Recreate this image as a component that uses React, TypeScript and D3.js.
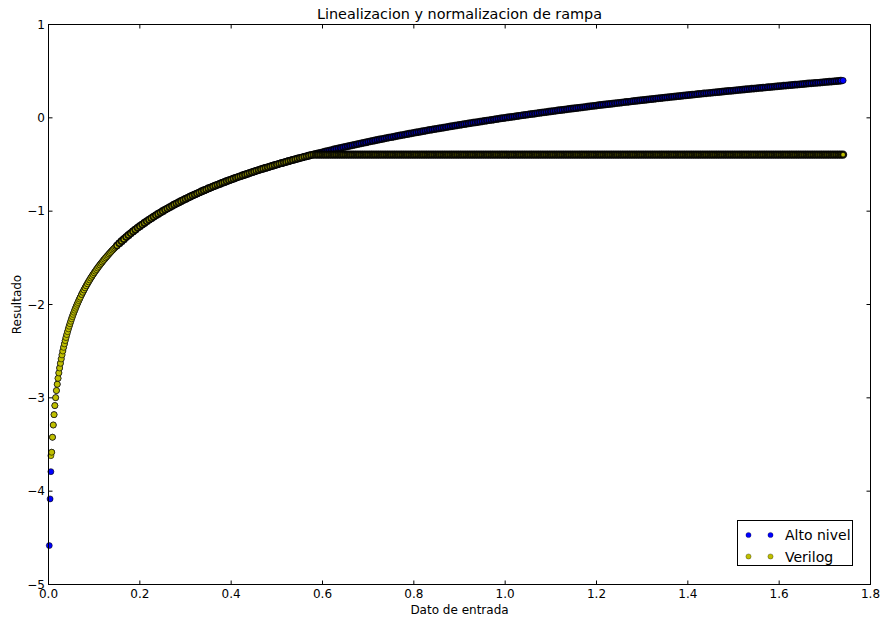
import React from "react";
import * as d3 from "d3";

const TITLE = "Linealizacion y normalizacion de rampa";
const X_LABEL = "Dato de entrada";
const Y_LABEL = "Resultado";
const SERIES_NAMES = ["Alto nivel", "Verilog"];

const X_TICKS = [0, 0.2, 0.4, 0.6, 0.8, 1.0, 1.2, 1.4, 1.6, 1.8];
const X_TICK_LABELS = ["0.0", "0.2", "0.4", "0.6", "0.8", "1.0", "1.2", "1.4", "1.6", "1.8"];
const Y_TICKS = [1, 0, -1, -2, -3, -4, -5];
const Y_TICK_LABELS = ["1", "0", "\u22121", "\u22122", "\u22123", "\u22124", "\u22125"];

const X_INPUT = [
  0.00174,0.00348,0.00522,0.00696,0.0087,0.01044,0.01218,0.01392,0.01566,0.0174,0.01914,0.02088,0.02262,0.02436,0.0261,0.02784,0.02958,0.03132,0.03306,0.0348,0.03654,0.03828,0.04002,0.04176,0.0435,0.04524,0.04698,0.04872,0.05046,0.0522,0.05394,0.05568,0.05742,0.05916,0.0609,0.06264,0.06438,0.06612,0.06786,0.0696,
  0.0725,0.075,0.0775,0.08,0.0825,0.085,0.0875,0.09,0.0925,0.095,0.0975,0.1,0.1025,0.105,0.1075,0.11,0.1125,0.115,0.1175,0.12,0.1225,0.125,0.1275,0.13,0.1325,0.135,0.1375,0.14,0.1425,0.145,0.1475,0.15,
  0.155,0.16,0.165,0.17,0.175,0.18,0.185,0.19,0.195,0.2,
  0.205,0.21,0.215,0.22,0.225,0.23,0.235,0.24,0.245,0.25,0.255,0.26,0.265,0.27,0.275,0.28,0.285,0.29,0.295,0.3,
  0.305,0.31,0.315,0.32,0.325,0.33,0.335,0.34,0.345,0.35,0.355,0.36,0.365,0.37,0.375,0.38,0.385,0.39,0.395,0.4,
  0.405,0.41,0.415,0.42,0.425,0.43,0.435,0.44,0.445,0.45,0.455,0.46,0.465,0.47,0.475,0.48,0.485,0.49,0.495,0.5,
  0.505,0.51,0.515,0.52,0.525,0.53,0.535,0.54,0.545,0.55,0.555,0.56,0.565,0.57,0.575,0.58,0.585,0.59,0.595,0.6,
  0.605,0.61,0.615,0.62,0.625,0.63,0.635,0.64,0.645,0.65,0.655,0.66,0.665,0.67,0.675,0.68,0.685,0.69,0.695,0.7,
  0.705,0.71,0.715,0.72,0.725,0.73,0.735,0.74,0.745,0.75,0.755,0.76,0.765,0.77,0.775,0.78,0.785,0.79,0.795,0.8,
  0.805,0.81,0.815,0.82,0.825,0.83,0.835,0.84,0.845,0.85,0.855,0.86,0.865,0.87,0.875,0.88,0.885,0.89,0.895,0.9,
  0.905,0.91,0.915,0.92,0.925,0.93,0.935,0.94,0.945,0.95,0.955,0.96,0.965,0.97,0.975,0.98,0.985,0.99,0.995,1.0,
  1.005,1.01,1.015,1.02,1.025,1.03,1.035,1.04,1.045,1.05,1.055,1.06,1.065,1.07,1.075,1.08,1.085,1.09,1.095,1.1,
  1.105,1.11,1.115,1.12,1.125,1.13,1.135,1.14,1.145,1.15,1.155,1.16,1.165,1.17,1.175,1.18,1.185,1.19,1.195,1.2,
  1.205,1.21,1.215,1.22,1.225,1.23,1.235,1.24,1.245,1.25,1.255,1.26,1.265,1.27,1.275,1.28,1.285,1.29,1.295,1.3,
  1.305,1.31,1.315,1.32,1.325,1.33,1.335,1.34,1.345,1.35,1.355,1.36,1.365,1.37,1.375,1.38,1.385,1.39,1.395,1.4,
  1.405,1.41,1.415,1.42,1.425,1.43,1.435,1.44,1.445,1.45,1.455,1.46,1.465,1.47,1.475,1.48,1.485,1.49,1.495,1.5,
  1.505,1.51,1.515,1.52,1.525,1.53,1.535,1.54,1.545,1.55,1.555,1.56,1.565,1.57,1.575,1.58,1.585,1.59,1.595,1.6,
  1.605,1.61,1.615,1.62,1.625,1.63,1.635,1.64,1.645,1.65,1.655,1.66,1.665,1.67,1.675,1.68,1.685,1.69,1.695,1.7,
  1.705,1.71,1.715,1.72,1.725,1.73,1.735,1.74,
];

const ALTO_NIVEL = [
  -4.583,-4.083,-3.791,-3.583,-3.422,-3.291,-3.180,-3.083,-2.998,-2.922,-2.854,-2.791,-2.733,-2.680,-2.630,-2.583,-2.540,-2.498,-2.459,-2.422,-2.387,-2.354,-2.322,-2.291,-2.261,-2.233,-2.206,-2.180,-2.154,-2.130,-2.106,-2.083,-2.061,-2.040,-2.019,-1.998,-1.979,-1.959,-1.941,-1.922,
  -1.893,-1.869,-1.845,-1.822,-1.800,-1.778,-1.757,-1.737,-1.717,-1.698,-1.679,-1.661,-1.643,-1.626,-1.609,-1.592,-1.576,-1.560,-1.545,-1.529,-1.515,-1.500,-1.486,-1.472,-1.458,-1.445,-1.431,-1.418,-1.405,-1.393,-1.381,-1.368,
  -1.345,-1.322,-1.300,-1.278,-1.257,-1.237,-1.217,-1.198,-1.179,-1.161,
  -1.143,-1.126,-1.109,-1.092,-1.076,-1.060,-1.045,-1.030,-1.015,-1.000,-0.986,-0.972,-0.958,-0.945,-0.931,-0.918,-0.906,-0.893,-0.881,-0.869,
  -0.857,-0.845,-0.833,-0.822,-0.811,-0.800,-0.789,-0.778,-0.768,-0.757,-0.747,-0.737,-0.727,-0.717,-0.708,-0.698,-0.689,-0.679,-0.670,-0.661,
  -0.652,-0.643,-0.634,-0.626,-0.617,-0.609,-0.601,-0.592,-0.584,-0.576,-0.568,-0.560,-0.552,-0.545,-0.537,-0.530,-0.522,-0.515,-0.507,-0.500,
  -0.493,-0.486,-0.479,-0.472,-0.465,-0.458,-0.451,-0.445,-0.438,-0.431,-0.425,-0.418,-0.412,-0.406,-0.399,-0.393,-0.387,-0.381,-0.375,-0.369,
  -0.363,-0.357,-0.351,-0.345,-0.339,-0.333,-0.328,-0.322,-0.316,-0.311,-0.305,-0.300,-0.294,-0.289,-0.284,-0.278,-0.273,-0.268,-0.263,-0.257,
  -0.252,-0.247,-0.242,-0.237,-0.232,-0.227,-0.222,-0.217,-0.212,-0.208,-0.203,-0.198,-0.193,-0.189,-0.184,-0.179,-0.175,-0.170,-0.166,-0.161,
  -0.157,-0.152,-0.148,-0.143,-0.139,-0.134,-0.130,-0.126,-0.122,-0.117,-0.113,-0.109,-0.105,-0.101,-0.096,-0.092,-0.088,-0.084,-0.080,-0.076,
  -0.072,-0.068,-0.064,-0.060,-0.056,-0.052,-0.049,-0.045,-0.041,-0.037,-0.033,-0.029,-0.026,-0.022,-0.018,-0.015,-0.011,-0.007,-0.004,0.000,
  0.004,0.007,0.011,0.014,0.018,0.021,0.025,0.028,0.032,0.035,0.039,0.042,0.045,0.049,0.052,0.056,0.059,0.062,0.066,0.069,
  0.072,0.075,0.079,0.082,0.085,0.088,0.091,0.095,0.098,0.101,0.104,0.107,0.110,0.113,0.116,0.119,0.123,0.126,0.129,0.132,
  0.135,0.138,0.141,0.143,0.146,0.149,0.152,0.155,0.158,0.161,0.164,0.167,0.170,0.172,0.175,0.178,0.181,0.184,0.187,0.189,
  0.192,0.195,0.198,0.200,0.203,0.206,0.209,0.211,0.214,0.217,0.219,0.222,0.225,0.227,0.230,0.232,0.235,0.238,0.240,0.243,
  0.245,0.248,0.250,0.253,0.256,0.258,0.261,0.263,0.266,0.268,0.271,0.273,0.275,0.278,0.280,0.283,0.285,0.288,0.290,0.292,
  0.295,0.297,0.300,0.302,0.304,0.307,0.309,0.312,0.314,0.316,0.319,0.321,0.323,0.325,0.328,0.330,0.332,0.335,0.337,0.339,
  0.341,0.344,0.346,0.348,0.350,0.352,0.355,0.357,0.359,0.361,0.363,0.366,0.368,0.370,0.372,0.374,0.376,0.378,0.381,0.383,
  0.385,0.387,0.389,0.391,0.393,0.395,0.398,0.400,
];

const VERILOG = [
  null,null,-3.62,-3.583,-3.422,-3.291,-3.180,-3.083,-2.998,-2.922,-2.854,-2.791,-2.733,-2.680,-2.630,-2.583,-2.540,-2.498,-2.459,-2.422,-2.387,-2.354,-2.322,-2.291,-2.261,-2.233,-2.206,-2.180,-2.154,-2.130,-2.106,-2.083,-2.061,-2.040,-2.019,-1.998,-1.979,-1.959,-1.941,-1.922,
  -1.893,-1.869,-1.845,-1.822,-1.800,-1.778,-1.757,-1.737,-1.717,-1.698,-1.679,-1.661,-1.643,-1.626,-1.609,-1.592,-1.576,-1.560,-1.545,-1.529,-1.515,-1.500,-1.486,-1.472,-1.458,-1.445,-1.431,-1.418,-1.405,-1.393,-1.381,-1.368,
  -1.345,-1.322,-1.300,-1.278,-1.257,-1.237,-1.217,-1.198,-1.179,-1.161,
  -1.143,-1.126,-1.109,-1.092,-1.076,-1.060,-1.045,-1.030,-1.015,-1.000,-0.986,-0.972,-0.958,-0.945,-0.931,-0.918,-0.906,-0.893,-0.881,-0.869,
  -0.857,-0.845,-0.833,-0.822,-0.811,-0.800,-0.789,-0.778,-0.768,-0.757,-0.747,-0.737,-0.727,-0.717,-0.708,-0.698,-0.689,-0.679,-0.670,-0.661,
  -0.652,-0.643,-0.634,-0.626,-0.617,-0.609,-0.601,-0.592,-0.584,-0.576,-0.568,-0.560,-0.552,-0.545,-0.537,-0.530,-0.522,-0.515,-0.507,-0.500,
  -0.493,-0.486,-0.479,-0.472,-0.465,-0.458,-0.451,-0.445,-0.438,-0.431,-0.425,-0.418,-0.412,-0.406,-0.399,-0.395,-0.395,-0.395,-0.395,-0.395,
  -0.395,-0.395,-0.395,-0.395,-0.395,-0.395,-0.395,-0.395,-0.395,-0.395,-0.395,-0.395,-0.395,-0.395,-0.395,-0.395,-0.395,-0.395,-0.395,-0.395,
  -0.395,-0.395,-0.395,-0.395,-0.395,-0.395,-0.395,-0.395,-0.395,-0.395,-0.395,-0.395,-0.395,-0.395,-0.395,-0.395,-0.395,-0.395,-0.395,-0.395,
  -0.395,-0.395,-0.395,-0.395,-0.395,-0.395,-0.395,-0.395,-0.395,-0.395,-0.395,-0.395,-0.395,-0.395,-0.395,-0.395,-0.395,-0.395,-0.395,-0.395,
  -0.395,-0.395,-0.395,-0.395,-0.395,-0.395,-0.395,-0.395,-0.395,-0.395,-0.395,-0.395,-0.395,-0.395,-0.395,-0.395,-0.395,-0.395,-0.395,-0.395,
  -0.395,-0.395,-0.395,-0.395,-0.395,-0.395,-0.395,-0.395,-0.395,-0.395,-0.395,-0.395,-0.395,-0.395,-0.395,-0.395,-0.395,-0.395,-0.395,-0.395,
  -0.395,-0.395,-0.395,-0.395,-0.395,-0.395,-0.395,-0.395,-0.395,-0.395,-0.395,-0.395,-0.395,-0.395,-0.395,-0.395,-0.395,-0.395,-0.395,-0.395,
  -0.395,-0.395,-0.395,-0.395,-0.395,-0.395,-0.395,-0.395,-0.395,-0.395,-0.395,-0.395,-0.395,-0.395,-0.395,-0.395,-0.395,-0.395,-0.395,-0.395,
  -0.395,-0.395,-0.395,-0.395,-0.395,-0.395,-0.395,-0.395,-0.395,-0.395,-0.395,-0.395,-0.395,-0.395,-0.395,-0.395,-0.395,-0.395,-0.395,-0.395,
  -0.395,-0.395,-0.395,-0.395,-0.395,-0.395,-0.395,-0.395,-0.395,-0.395,-0.395,-0.395,-0.395,-0.395,-0.395,-0.395,-0.395,-0.395,-0.395,-0.395,
  -0.395,-0.395,-0.395,-0.395,-0.395,-0.395,-0.395,-0.395,-0.395,-0.395,-0.395,-0.395,-0.395,-0.395,-0.395,-0.395,-0.395,-0.395,-0.395,-0.395,
  -0.395,-0.395,-0.395,-0.395,-0.395,-0.395,-0.395,-0.395,-0.395,-0.395,-0.395,-0.395,-0.395,-0.395,-0.395,-0.395,-0.395,-0.395,-0.395,-0.395,
  -0.395,-0.395,-0.395,-0.395,-0.395,-0.395,-0.395,-0.395,-0.395,-0.395,-0.395,-0.395,-0.395,-0.395,-0.395,-0.395,-0.395,-0.395,-0.395,-0.395,
  -0.395,-0.395,-0.395,-0.395,-0.395,-0.395,-0.395,-0.395,
];

const BLUE = "#0000ff";
const YELLOW = "#bfbf00";
const FONT = "'DejaVu Sans', sans-serif";
const R = 3;

// Marker edge width scaled to the sampling density so the overlapping
// edges build up about the same darkness as the dense original markers.
const edgeStyle = (i: number, horiz: boolean) => {
  const a = X_INPUT[Math.max(0, i - 1)];
  const b = X_INPUT[Math.min(X_INPUT.length - 1, i + 1)];
  const gap = (b - a) / 2 || 0.00174;
  const ratio = gap / 0.00174;
  if (horiz) return { w: 2.25, o: 0.9 };
  const w = Math.max(0.5, Math.min(1.75, 0.6 * ratio));
  return { w, o: ratio > 1.2 ? 0.88 : 1 };
};

export default function App() {
  const W = 882;
  const H = 620;
  const left = 48.5, right = 870.5, top = 24.5, bottom = 584.5;
  const x = d3.scaleLinear().domain([0, 1.8]).range([left, right]);
  const y = d3.scaleLinear().domain([-5, 1]).range([bottom, top]);

  const pts = (ys: (number | null)[]) =>
    X_INPUT.map((xv, i) => ({ x: xv, y: ys[i], i })).filter((d) => d.y !== null && d.y !== undefined) as {
      x: number;
      y: number;
      i: number;
    }[];

  const alto = pts(ALTO_NIVEL);
  const veri = pts(VERILOG);
  const isFlat = (i: number) => {
    const p = VERILOG[i - 1];
    const c = VERILOG[i];
    return p !== null && p !== undefined && c === p;
  };

  const lgX = 737.5, lgY = 520.5, lgW = 115, lgH = 45;

  return (
    <svg
      width={W}
      height={H}
      viewBox={`0 0 ${W} ${H}`}
      style={{ position: "absolute", left: 0, top: 0, background: "#fff" }}
      fontFamily={FONT}
    >
      <rect x={0} y={0} width={W} height={H} fill="#fff" />
      <text x={(left + right) / 2} y={19} textAnchor="middle" fontSize={14.4} fill="#000">
        {TITLE}
      </text>

      <g>
        {alto.map((d) => {
          const s = edgeStyle(d.i, false);
          return (
            <circle
              key={"a" + d.i}
              cx={x(d.x)}
              cy={y(d.y)}
              r={R}
              fill={BLUE}
              stroke="#000"
              strokeWidth={s.w}
              strokeOpacity={s.o}
            />
          );
        })}
        {veri.map((d) => {
          const s = edgeStyle(d.i, isFlat(d.i));
          return (
            <circle
              key={"v" + d.i}
              cx={x(d.x)}
              cy={y(d.y)}
              r={R}
              fill={YELLOW}
              stroke="#000"
              strokeWidth={s.w}
              strokeOpacity={s.o}
            />
          );
        })}
      </g>

      <rect x={left} y={top} width={right - left} height={bottom - top} fill="none" stroke="#000" strokeWidth={1} />

      {X_TICKS.map((t, i) => (
        <g key={"xt" + i}>
          <line x1={x(t)} x2={x(t)} y1={bottom} y2={bottom - 4} stroke="#000" strokeWidth={1} />
          <line x1={x(t)} x2={x(t)} y1={top} y2={top + 4} stroke="#000" strokeWidth={1} />
          <text x={x(t)} y={598} textAnchor="middle" fontSize={12} fill="#000">
            {X_TICK_LABELS[i]}
          </text>
        </g>
      ))}
      {Y_TICKS.map((t, i) => (
        <g key={"yt" + i}>
          <line x1={left} x2={left + 4} y1={y(t)} y2={y(t)} stroke="#000" strokeWidth={1} />
          <line x1={right} x2={right - 4} y1={y(t)} y2={y(t)} stroke="#000" strokeWidth={1} />
          <text x={45} y={y(t)} dy="0.36em" textAnchor="end" fontSize={12} fill="#000">
            {Y_TICK_LABELS[i]}
          </text>
        </g>
      ))}

      <text x={(left + right) / 2} y={614} textAnchor="middle" fontSize={12} fill="#000">
        {X_LABEL}
      </text>
      <text
        transform={`translate(21, ${(top + bottom) / 2}) rotate(-90)`}
        textAnchor="middle"
        fontSize={12}
        fill="#000"
      >
        {Y_LABEL}
      </text>

      <g>
        <rect x={lgX} y={lgY} width={lgW} height={lgH} fill="#fff" stroke="#000" strokeWidth={1} />
        {SERIES_NAMES.map((name, i) => {
          const cy = 535 + i * 21.5;
          const col = i === 0 ? BLUE : YELLOW;
          return (
            <g key={"lg" + i}>
              <circle cx={748.5} cy={cy} r={2.6} fill={col} stroke="#000" strokeWidth={0.3} />
              <circle cx={770.5} cy={cy} r={2.6} fill={col} stroke="#000" strokeWidth={0.3} />
              <text x={785} y={cy} dy="0.36em" fontSize={14} fill="#000">
                {name}
              </text>
            </g>
          );
        })}
      </g>
    </svg>
  );
}
